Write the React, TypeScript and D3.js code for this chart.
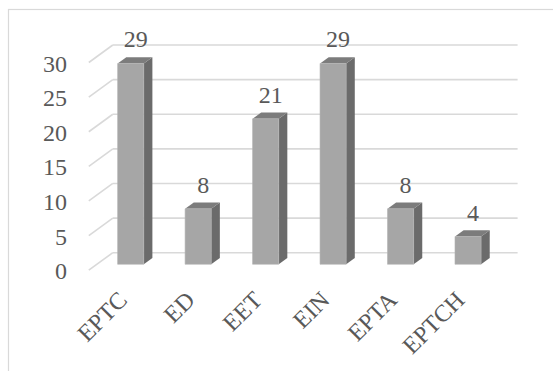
import React from "react";
import * as d3 from "d3";

const categories = ["EPTC", "ED", "EET", "EIN", "EPTA", "EPTCH"];
const values = [29, 8, 21, 29, 8, 4];
const yTicks = [0, 5, 10, 15, 20, 25, 30];

const W = 553;
const H = 371;
const FONT = "'Liberation Serif', 'Times New Roman', serif";
const TEXT = "#595959";
const GRID = "#d9d9d9";

// 3D depth vector (back wall -> front plane)
const DX = -24;
const DY = 17.5;
const TF = 0.66; // bar front depth
const TB = 0.3; // bar back depth

export default function App() {
  const x = d3.scaleBand<string>().domain(categories).range([112.8, 517.6]).paddingInner(0).paddingOuter(0);
  const y = d3.scaleLinear().domain([0, 30]).range([252.7, 45]);
  const bw = x.bandwidth();
  const barW = bw * 0.387;
  const [x0, x1] = x.range();

  const pt = (px: number, py: number, t: number) => [px + t * DX, py + t * DY];
  const poly = (pts: number[][]) => pts.map((p) => p.join(",")).join(" ");

  return (
    <svg
      width={W}
      height={H}
      style={{ position: "absolute", left: 0, top: 0, display: "block", background: "#fff" }}
    >
      <rect x={8.5} y={9.5} width={700} height={500} fill="#fff" stroke={GRID} strokeWidth={1.2} />
      {yTicks.map((v) => (
        <g key={v}>
          <line x1={x0} x2={x1} y1={y(v)} y2={y(v)} stroke={GRID} strokeWidth={1.6} />
          <line x1={x0} y1={y(v)} x2={x0 + DX} y2={y(v) + DY} stroke={GRID} strokeWidth={1.6} />
          <text
            x={67}
            y={y(v) + DY + 9}
            textAnchor="end"
            fontFamily={FONT}
            fontSize={24}
            fill={TEXT}
          >
            {v}
          </text>
        </g>
      ))}
      {categories.map((c, i) => {
        const v = values[i];
        const cx = (x(c) as number) + bw / 2;
        const l = cx - barW / 2;
        const r = cx + barW / 2;
        const yt = y(v);
        const yb = y(0);
        const ftl = pt(l, yt, TF);
        const ftr = pt(r, yt, TF);
        const fbr = pt(r, yb, TF);
        const fbl = pt(l, yb, TF);
        const btl = pt(l, yt, TB);
        const btr = pt(r, yt, TB);
        const bbr = pt(r, yb, TB);
        const fc = cx + TF * DX;
        return (
          <g key={c}>
            <polygon points={poly([ftr, btr, bbr, fbr])} fill="#6b6b6b" />
            <polygon points={poly([ftl, ftr, btr, btl])} fill="#7c7c7c" />
            <polygon points={poly([ftl, ftr, fbr, fbl])} fill="#a6a6a6" stroke="#b4b4b4" strokeWidth={0.6} />
            <text
              x={fc + 5}
              y={ftl[1] - 16}
              textAnchor="middle"
              fontFamily={FONT}
              fontSize={24}
              fill={TEXT}
            >
              {v}
            </text>
            <text
              transform={`translate(${fc - 2},${301.5}) rotate(-45)`}
              textAnchor="end"
              fontFamily={FONT}
              fontSize={24}
              fill={TEXT}
            >
              {c}
            </text>
          </g>
        );
      })}
    </svg>
  );
}
